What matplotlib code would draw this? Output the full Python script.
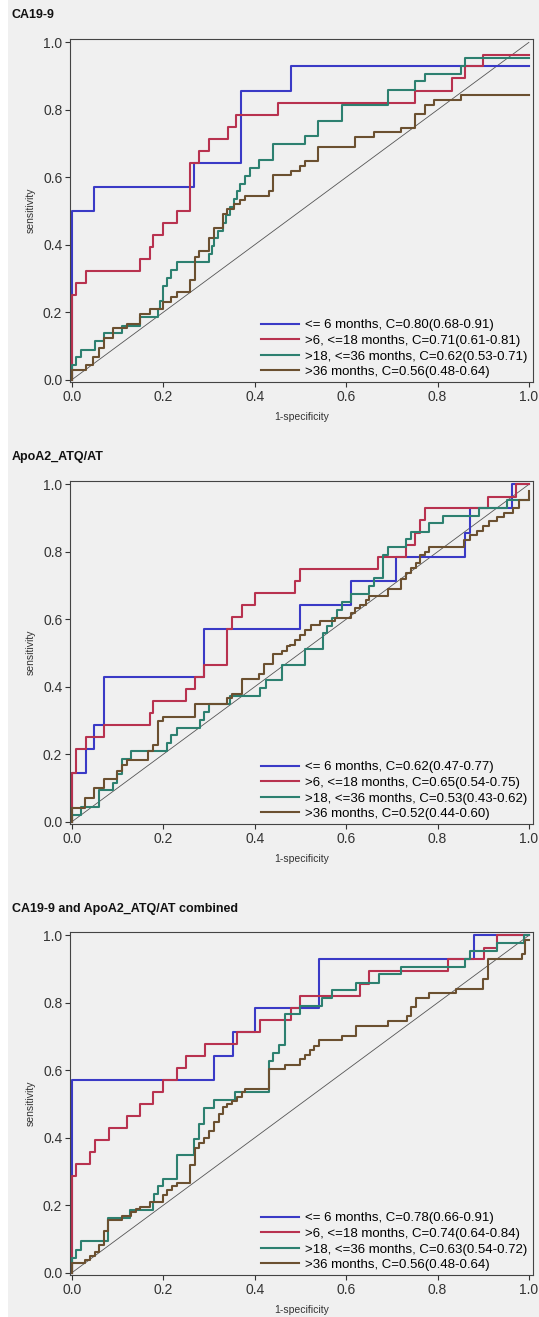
"""
ROC curves by follow-up window: CA19-9, ApoA2_ATQ/AT and both combined
"""
import numpy as np
import matplotlib
matplotlib.use("Agg")
import matplotlib.pyplot as plt
from matplotlib.patches import Rectangle

plt.rcParams['font.family'] = ['Liberation Sans', 'DejaVu Sans']

# ---- data: (1-specificity, sensitivity) corners of each step curve ----
# CA19-9
ca_x_le6 = [0, 0, 0.049, 0.268, 0.370, 0.480, 1.0]
ca_y_le6 = [0, 0.500, 0.571, 0.643, 0.857, 0.929, 0.929]
ca_x_6_18 = [0, 0, 0.009, 0.031, 0.149, 0.170, 0.178, 0.199, 0.230, 0.259, 0.279,
             0.300, 0.341, 0.360, 0.450, 0.751, 0.831, 0.860, 0.900, 1.0]
ca_y_6_18 = [0, 0.250, 0.286, 0.321, 0.357, 0.393, 0.429, 0.464, 0.500, 0.643, 0.679,
             0.714, 0.750, 0.786, 0.821, 0.857, 0.893, 0.929, 0.964, 0.964]
ca_x_18_36 = [0, 0, 0.009, 0.019, 0.050, 0.069, 0.109, 0.149, 0.189, 0.193, 0.199,
              0.208, 0.217, 0.230, 0.300, 0.306, 0.311, 0.319, 0.330, 0.336, 0.346,
              0.354, 0.361, 0.368, 0.379, 0.390, 0.410, 0.440, 0.509, 0.539, 0.591,
              0.691, 0.751, 0.772, 0.851, 0.860, 1.0]
ca_y_18_36 = [0, 0.043, 0.068, 0.089, 0.114, 0.137, 0.160, 0.186, 0.209, 0.232, 0.279,
              0.302, 0.326, 0.349, 0.372, 0.395, 0.419, 0.442, 0.465, 0.488, 0.512,
              0.535, 0.558, 0.581, 0.605, 0.628, 0.651, 0.698, 0.721, 0.767, 0.814,
              0.860, 0.884, 0.907, 0.930, 0.953, 0.953]
ca_x_gt36 = [0, 0, 0.031, 0.047, 0.058, 0.071, 0.089, 0.120, 0.149, 0.170, 0.200,
             0.217, 0.230, 0.259, 0.270, 0.279, 0.300, 0.311, 0.330, 0.339, 0.354,
             0.368, 0.379, 0.431, 0.441, 0.480, 0.499, 0.509, 0.539, 0.619, 0.661,
             0.719, 0.751, 0.772, 0.793, 0.851, 1.0]
ca_y_gt36 = [0, 0.028, 0.043, 0.068, 0.093, 0.122, 0.152, 0.165, 0.195, 0.208, 0.230,
             0.245, 0.260, 0.295, 0.365, 0.380, 0.420, 0.450, 0.490, 0.505, 0.520,
             0.532, 0.545, 0.560, 0.607, 0.619, 0.632, 0.647, 0.690, 0.719, 0.733,
             0.746, 0.789, 0.815, 0.830, 0.845, 0.845]

# ApoA2_ATQ/AT
ap_x_le6 = [0, 0, 0.031, 0.049, 0.069, 0.289, 0.500, 0.610, 0.710, 0.860, 0.871, 0.962, 1.0]
ap_y_le6 = [0, 0.143, 0.214, 0.286, 0.429, 0.571, 0.643, 0.714, 0.786, 0.857, 0.929, 1.0, 1.0]
ap_x_6_18 = [0, 0, 0.009, 0.031, 0.069, 0.170, 0.178, 0.250, 0.270, 0.289, 0.339, 0.350,
             0.371, 0.400, 0.489, 0.500, 0.670, 0.732, 0.751, 0.762, 0.772, 0.911, 0.972, 1.0]
ap_y_6_18 = [0, 0.143, 0.214, 0.250, 0.286, 0.321, 0.357, 0.393, 0.429, 0.464, 0.571, 0.607,
             0.643, 0.679, 0.714, 0.750, 0.786, 0.821, 0.857, 0.893, 0.929, 0.964, 1.0, 1.0]
ap_x_18_36 = [0, 0, 0.019, 0.060, 0.089, 0.098, 0.109, 0.129, 0.208, 0.217, 0.230, 0.281,
              0.289, 0.300, 0.346, 0.412, 0.424, 0.460, 0.511, 0.550, 0.559, 0.570, 0.580,
              0.591, 0.610, 0.650, 0.661, 0.680, 0.691, 0.732, 0.741, 0.781, 0.812, 0.891,
              0.953, 1.0]
ap_y_18_36 = [0, 0.021, 0.044, 0.093, 0.116, 0.140, 0.186, 0.209, 0.233, 0.256, 0.279, 0.302,
              0.326, 0.349, 0.372, 0.395, 0.419, 0.465, 0.512, 0.558, 0.581, 0.605, 0.628,
              0.651, 0.674, 0.698, 0.721, 0.791, 0.814, 0.837, 0.860, 0.884, 0.907, 0.930,
              0.953, 0.953]
ap_x_gt36 = [0, 0, 0.029, 0.049, 0.069, 0.098, 0.109, 0.120, 0.167, 0.178, 0.188, 0.199,
             0.270, 0.339, 0.350, 0.371, 0.410, 0.420, 0.440, 0.460, 0.471, 0.478, 0.489,
             0.499, 0.511, 0.522, 0.542, 0.575, 0.610, 0.620, 0.631, 0.643, 0.650, 0.691,
             0.720, 0.731, 0.741, 0.752, 0.762, 0.772, 0.781, 0.857, 0.871, 0.887, 0.900,
             0.913, 0.931, 0.946, 0.966, 0.979, 1.0]
ap_y_gt36 = [0, 0.040, 0.070, 0.100, 0.127, 0.150, 0.169, 0.184, 0.209, 0.226, 0.298, 0.311,
             0.350, 0.367, 0.379, 0.424, 0.437, 0.466, 0.496, 0.506, 0.520, 0.525, 0.540,
             0.554, 0.569, 0.584, 0.594, 0.605, 0.620, 0.634, 0.643, 0.658, 0.668, 0.690,
             0.720, 0.736, 0.752, 0.766, 0.790, 0.800, 0.814, 0.834, 0.851, 0.861, 0.876,
             0.891, 0.903, 0.916, 0.930, 0.955, 0.980]

# CA19-9 and ApoA2_ATQ/AT combined
cb_x_le6 = [0, 0, 0.311, 0.352, 0.401, 0.540, 0.880, 1.0]
cb_y_le6 = [0, 0.571, 0.643, 0.714, 0.786, 0.929, 1.0, 1.0]
cb_x_6_18 = [0, 0, 0.009, 0.039, 0.050, 0.080, 0.120, 0.149, 0.178, 0.199, 0.230, 0.250,
             0.292, 0.362, 0.412, 0.479, 0.500, 0.630, 0.650, 0.822, 0.902, 0.931, 1.0]
cb_y_6_18 = [0, 0.286, 0.321, 0.357, 0.393, 0.429, 0.464, 0.500, 0.536, 0.571, 0.607, 0.643,
             0.679, 0.714, 0.750, 0.786, 0.821, 0.857, 0.893, 0.929, 0.964, 1.0, 1.0]
cb_x_18_36 = [0, 0, 0.009, 0.019, 0.078, 0.127, 0.178, 0.180, 0.189, 0.200, 0.230, 0.268,
              0.279, 0.289, 0.311, 0.357, 0.431, 0.441, 0.452, 0.467, 0.500, 0.548, 0.570,
              0.622, 0.671, 0.721, 0.860, 0.871, 0.931, 0.990, 1.0]
cb_y_18_36 = [0, 0.043, 0.067, 0.093, 0.163, 0.186, 0.209, 0.233, 0.256, 0.279, 0.349, 0.395,
              0.442, 0.488, 0.512, 0.535, 0.628, 0.651, 0.674, 0.767, 0.791, 0.814, 0.837,
              0.860, 0.884, 0.907, 0.930, 0.953, 0.977, 1.0, 1.0]
cb_x_gt36 = [0, 0, 0.029, 0.039, 0.050, 0.060, 0.069, 0.078, 0.109, 0.129, 0.140, 0.149,
             0.170, 0.199, 0.208, 0.219, 0.230, 0.259, 0.270, 0.279, 0.289, 0.300, 0.311,
             0.321, 0.330, 0.339, 0.350, 0.361, 0.372, 0.379, 0.431, 0.467, 0.500, 0.509,
             0.520, 0.529, 0.540, 0.590, 0.622, 0.692, 0.733, 0.741, 0.752, 0.781, 0.840,
             0.900, 0.910, 0.985, 0.991, 1.0]
cb_y_gt36 = [0, 0.028, 0.038, 0.050, 0.060, 0.082, 0.122, 0.157, 0.167, 0.179, 0.188, 0.196,
             0.208, 0.231, 0.245, 0.258, 0.265, 0.320, 0.370, 0.385, 0.400, 0.420, 0.446,
             0.470, 0.490, 0.500, 0.510, 0.520, 0.535, 0.545, 0.605, 0.617, 0.632, 0.646,
             0.659, 0.673, 0.689, 0.703, 0.731, 0.746, 0.760, 0.788, 0.815, 0.830, 0.842,
             0.871, 0.929, 0.944, 0.985, 0.985]

titles = ["CA19-9", "ApoA2_ATQ/AT", "CA19-9 and ApoA2_ATQ/AT combined"]
groups = ["<= 6 months", ">6, <=18 months", ">18, <=36 months", ">36 months"]
c_stats = [["0.80(0.68-0.91)", "0.71(0.61-0.81)", "0.62(0.53-0.71)", "0.56(0.48-0.64)"],
           ["0.62(0.47-0.77)", "0.65(0.54-0.75)", "0.53(0.43-0.62)", "0.52(0.44-0.60)"],
           ["0.78(0.66-0.91)", "0.74(0.64-0.84)", "0.63(0.54-0.72)", "0.56(0.48-0.64)"]]

curves = [
    [(ca_x_le6, ca_y_le6), (ca_x_6_18, ca_y_6_18), (ca_x_18_36, ca_y_18_36), (ca_x_gt36, ca_y_gt36)],
    [(ap_x_le6, ap_y_le6), (ap_x_6_18, ap_y_6_18), (ap_x_18_36, ap_y_18_36), (ap_x_gt36, ap_y_gt36)],
    [(cb_x_le6, cb_y_le6), (cb_x_6_18, cb_y_6_18), (cb_x_18_36, cb_y_18_36), (cb_x_gt36, cb_y_gt36)],
]

colours = ["#3a3ac6", "#b8324f", "#2d8070", "#6b5030"]
bg = "#f0f0f0"

fig = plt.figure(figsize=(5.39, 13.17), dpi=100, facecolor="white")
fig.patches.append(Rectangle((8/539., 0), 1, 1, transform=fig.transFigure,
                             facecolor=bg, edgecolor="none", zorder=-10))

# axes positions (figure fraction) and title heights
ax_left, ax_w, ax_h = 70/539., 463/539., 343/1317.
ax_bottoms = [1 - 382/1317., 1 - 824/1317., 1 - 1275/1317.]
title_y = [1 - 15/1317., 1 - 457/1317., 1 - 909/1317.]

for k in range(3):
    ax = fig.add_axes([ax_left, ax_bottoms[k], ax_w, ax_h])
    ax.set_facecolor(bg)
    ax.plot([0, 1], [0, 1], color="#555555", lw=0.6, zorder=1)
    for (x, y), col, grp, cs in zip(curves[k], colours, groups, c_stats[k]):
        ax.plot(x, y, drawstyle="steps-post", color=col, lw=1.5,
                label="%s, C=%s" % (grp, cs), zorder=2)

    ax.set_xlim(-0.0044, 1.009)
    ax.set_ylim(-0.007, 1.01)
    ticks = np.arange(0, 1.01, 0.2)
    ax.set_xticks(ticks)
    ax.set_yticks(ticks)
    ax.set_xticklabels(["%.1f" % t for t in ticks])
    ax.set_yticklabels(["%.1f" % t for t in ticks])
    ax.tick_params(direction="out", length=3.5, width=0.8, colors="#333333",
                   labelsize=10, pad=2)
    for s in ax.spines.values():
        s.set_color("#444444")
        s.set_linewidth(0.8)

    ax.set_xlabel("1-specificity", fontsize=7.5, color="#333333", labelpad=6)
    ax.set_ylabel("sensitivity", fontsize=7.5, color="#333333", labelpad=5)

    lg = ax.legend(loc="lower right", bbox_to_anchor=(0.997, 0.0), frameon=False,
                   fontsize=9.5, handlelength=2.9, handletextpad=0.45,
                   labelspacing=0.25, borderpad=0.3, borderaxespad=0)

    fig.text(12/539., title_y[k], titles[k], fontsize=9, fontweight="bold",
             ha="left", va="center", color="#111111")

fig.savefig("out.png", dpi=100, facecolor=fig.get_facecolor())
